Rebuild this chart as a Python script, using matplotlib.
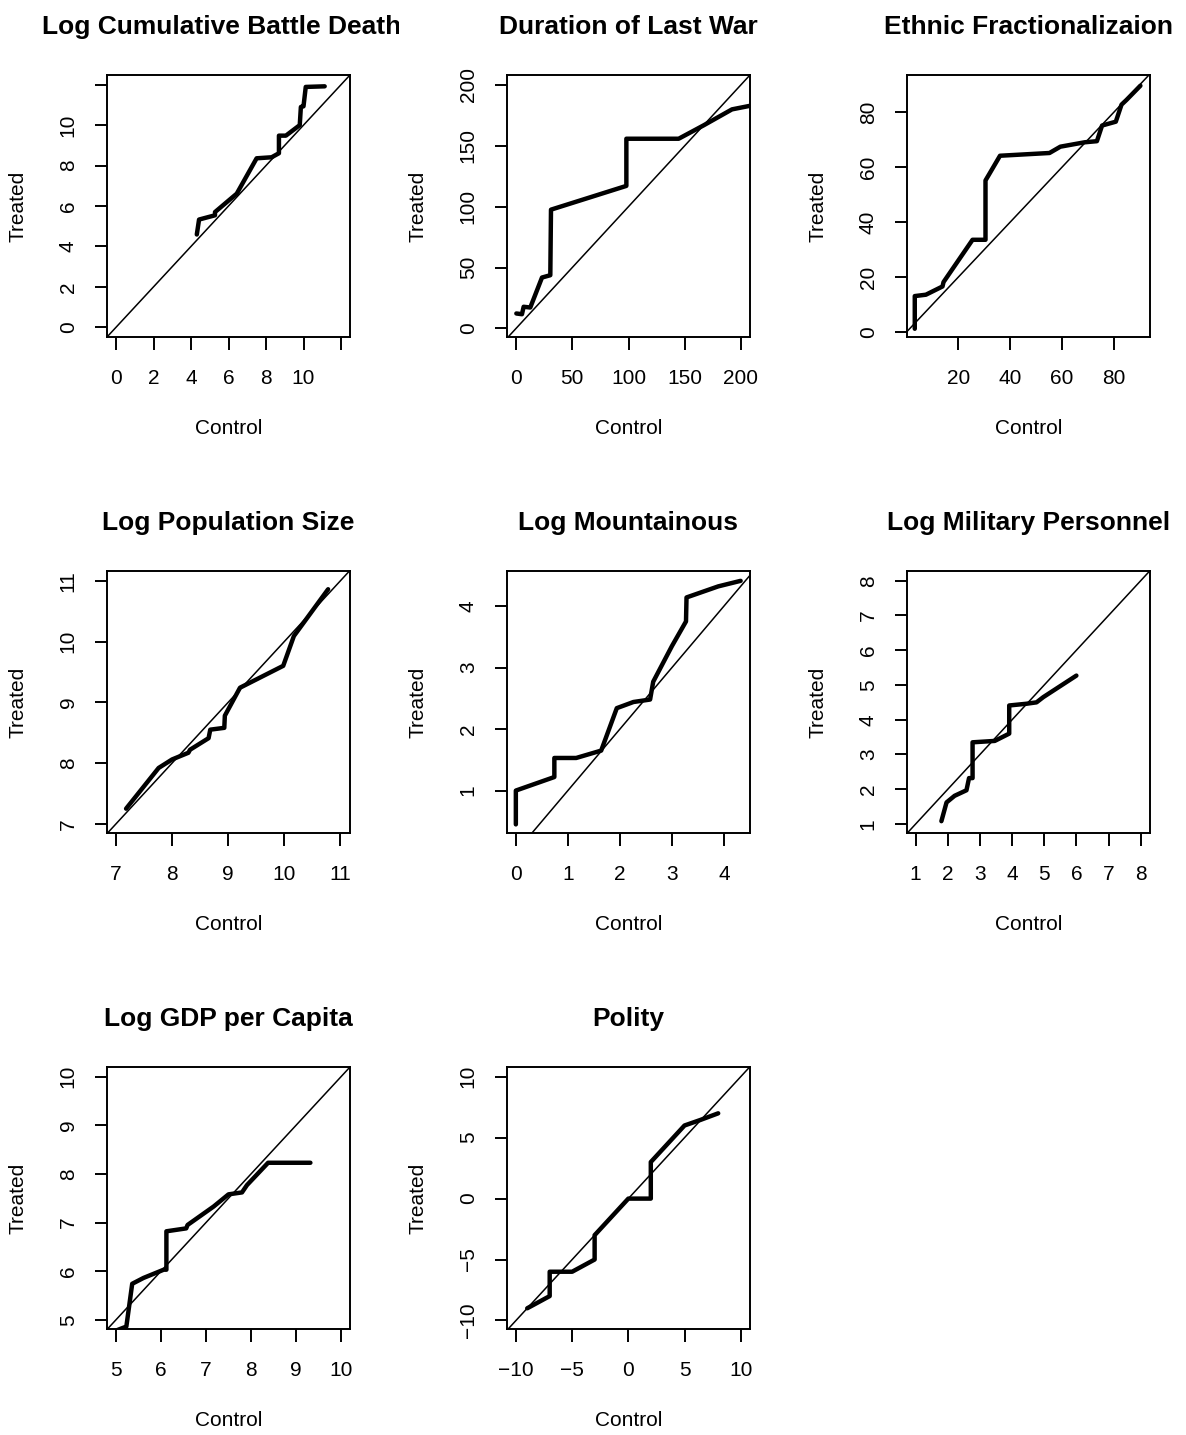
import numpy as np
import matplotlib
matplotlib.use('Agg')
import matplotlib.pyplot as plt
from matplotlib.transforms import Bbox

plt.rcParams['font.family'] = ['Liberation Sans', 'DejaVu Sans']
plt.rcParams['axes.unicode_minus'] = True

# QQ points (control quantile, treated quantile)
titles = ['Log Cumulative Battle Deaths', 'Duration of Last War', 'Ethnic Fractionalizaion',
          'Log Population Size', 'Log Mountainous', 'Log Military Personnel',
          'Log GDP per Capita', 'Polity']

deaths_c = [4.31, 4.43, 5.28, 5.28, 6.44, 7.50, 8.30, 8.69, 8.69, 9.06, 9.80, 9.86, 10.0, 10.12, 11.13]
deaths_t = [4.59, 5.33, 5.54, 5.70, 6.61, 8.36, 8.41, 8.61, 9.48, 9.48, 10.0, 10.9, 10.93, 11.89, 11.92]

duration_c = [0.3, 5.3, 6.8, 12.7, 23.1, 30.5, 31.1, 98.1, 98.1, 144.6, 166.8, 192, 215]
duration_t = [12.3, 11.7, 17.8, 17.2, 41.8, 43.7, 97.5, 117, 155.7, 155.7, 166.7, 179.8, 184]

ethnic_c = [3.2, 3.2, 7.5, 13.9, 14.3, 25.5, 30.5, 30.5, 32, 36.1, 55.2, 59.4, 68.8, 73.5, 75.5, 80.8, 83, 84.9, 90.3]
ethnic_t = [1.2, 13.1, 13.6, 16.6, 18.2, 33.6, 33.6, 55.2, 57.6, 64.2, 65.2, 67.5, 69.1, 69.5, 75.2, 76.6, 82.8, 84.5, 89.7]

pop_c = [7.18, 7.76, 8.0, 8.29, 8.32, 8.65, 8.68, 8.93, 8.94, 9.21, 9.98, 10.17, 10.78]
pop_t = [7.25, 7.92, 8.06, 8.17, 8.22, 8.41, 8.55, 8.58, 8.78, 9.24, 9.60, 10.09, 10.86]

mount_c = [0, 0, 0.74, 0.74, 1.16, 1.64, 1.94, 2.26, 2.58, 2.64, 3.0, 3.27, 3.28, 3.89, 4.32]
mount_t = [0.45, 1.0, 1.22, 1.53, 1.53, 1.65, 2.34, 2.44, 2.48, 2.77, 3.35, 3.75, 4.14, 4.32, 4.41]

mil_c = [1.80, 1.96, 2.21, 2.58, 2.66, 2.77, 2.77, 3.46, 3.91, 3.91, 4.45, 4.76, 4.97, 6.0]
mil_t = [1.08, 1.62, 1.81, 1.97, 2.32, 2.32, 3.35, 3.39, 3.60, 4.41, 4.46, 4.50, 4.65, 5.27]

gdp_c = [4.95, 5.23, 5.36, 5.61, 6.06, 6.12, 6.12, 6.56, 6.59, 7.17, 7.50, 7.80, 7.91, 8.38, 9.32]
gdp_t = [4.76, 4.86, 5.74, 5.86, 6.03, 6.03, 6.82, 6.88, 6.95, 7.33, 7.58, 7.62, 7.77, 8.23, 8.23]

polity_c = [-9, -7, -7, -5, -3, -3, 0, 2, 2, 5, 6.4, 8]
polity_t = [-9, -8, -6, -6, -5, -3, 0, 0, 3, 6, 6.45, 7]

series = [(deaths_c, deaths_t), (duration_c, duration_t), (ethnic_c, ethnic_t),
          (pop_c, pop_t), (mount_c, mount_t), (mil_c, mil_t),
          (gdp_c, gdp_t), (polity_c, polity_t)]

xlims = [(-0.48, 12.48), (-8, 208), (0.2, 94), (6.84, 11.17), (-0.17, 4.5), (0.73, 8.29), (4.8, 10.2), (-10.8, 10.83)]
ylims = [(-0.48, 12.48), (-7, 208), (-1.8, 93.6), (6.85, 11.16), (0.31, 4.57), (0.74, 8.28), (4.81, 10.2), (-10.7, 10.8)]
xticks = [np.arange(0, 13, 2), np.arange(0, 201, 50), np.arange(20, 81, 20), np.arange(7, 12),
          np.arange(0, 5), np.arange(1, 9), np.arange(5, 11), np.arange(-10, 11, 5)]
yticks = [np.arange(0, 13, 2), np.arange(0, 201, 50), np.arange(0, 81, 20), np.arange(7, 12),
          np.arange(1, 5), np.arange(1, 9), np.arange(5, 11), np.arange(-10, 11, 5)]

W, H = 1186, 1435
fig = plt.figure(figsize=(W / 100, H / 100), dpi=100)

lefts = [107, 507, 907]
tops = [75, 571, 1067]
bw, bh = 243, 262

for i in range(len(titles)):
    r, c = i // 3, i % 3
    l, t = lefts[c], tops[r]
    ax = fig.add_axes([l / W, 1 - (t + bh) / H, bw / W, bh / H])
    xc, yt = series[i]
    ax.axline((0, 0), slope=1, color='black', lw=1.1)
    ax.plot(xc, yt, color='black', lw=3.2, solid_joinstyle='round', solid_capstyle='round')
    ax.set_xlim(xlims[i])
    ax.set_ylim(ylims[i])

    xt = xticks[i]
    ax.set_xticks(xt)
    xl = [f'{v:g}'.replace('-', '\u2212') for v in xt]
    yl = [f'{v:g}'.replace('-', '\u2212') for v in yticks[i]]
    if i == 0:
        xl[-1] = ''
        yl[-1] = ''
    ax.set_xticklabels(xl)
    ax.set_yticks(yticks[i])
    ax.set_yticklabels(yl, rotation=90, va='center')

    ax.tick_params(axis='both', length=9, width=1.4, labelsize=15, color='black')
    ax.tick_params(axis='x', pad=14)
    ax.tick_params(axis='y', pad=12)
    for s in ax.spines.values():
        s.set_linewidth(1.4)

    ax.set_xlabel('Control', fontsize=15)
    ax.xaxis.label.set_va('center')
    ax.xaxis.set_label_coords(0.5, -91 / bh)
    ax.set_ylabel('Treated', fontsize=15)
    ax.yaxis.label.set_va('center')
    ax.yaxis.set_label_coords(-89 / bw, 0.5)

    tt = ax.text(0.5, 1 + 48 / bh, titles[i], transform=ax.transAxes, ha='center', va='center',
                 fontsize=19, fontweight='bold')
    tt.set_clip_box(Bbox.from_extents(c * 399, 0, c * 399 + 399, H))
    tt.set_clip_on(True)

fig.savefig('out.png', dpi=100)
